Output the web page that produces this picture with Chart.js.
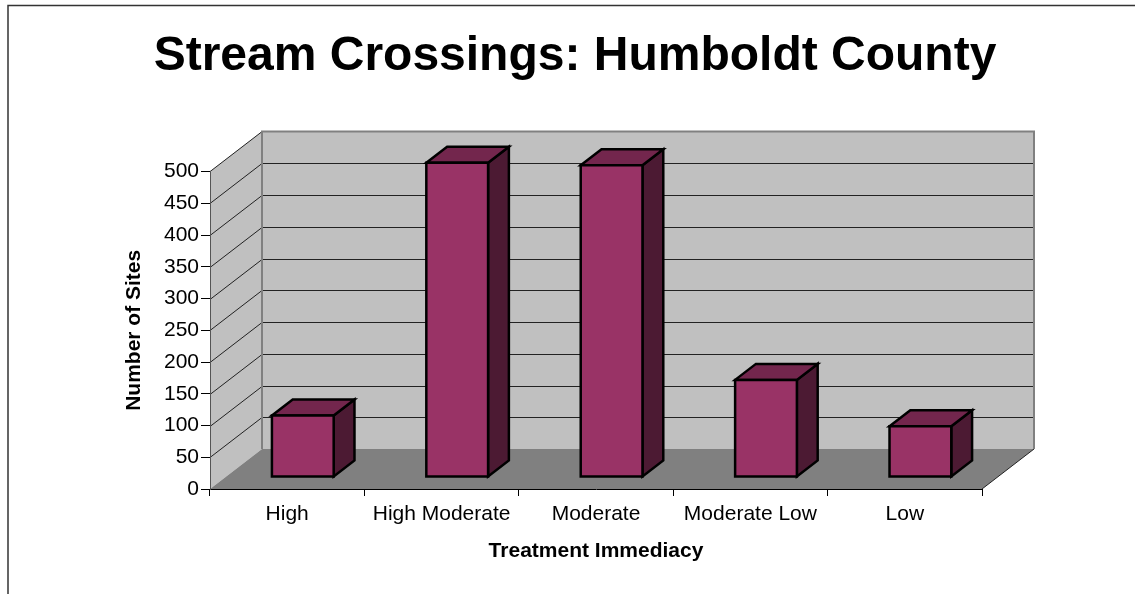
<!DOCTYPE html>
<html>
<head>
<meta charset="utf-8">
<script src="https://cdn.jsdelivr.net/npm/chart.js@4/dist/chart.umd.min.js"></script>
<style>
  html, body { margin: 0; padding: 0; background: #ffffff; }
  #wrap { width: 1135px; height: 594px; position: relative; }
</style>
</head>
<body>
<div id="wrap"><canvas id="c" width="1135" height="594"></canvas></div>
<script>
// ---- Data ----
const categories = ['High', 'High Moderate', 'Moderate', 'Moderate Low', 'Low'];
const siteCounts = [97, 495, 491, 153, 80];
const yTickStep = 50;
const yMax = 500;
const chartTitle = 'Stream Crossings: Humboldt County';
const xTitle = 'Treatment Immediacy';
const yTitle = 'Number of Sites';

// ---- Style ----
const FONT = '"Liberation Sans", Arial, Helvetica, sans-serif';
const DEPTH_X = 52, DEPTH_Y = -40;      // 3D depth offset
const BAR_FRONT = 0.3, BAR_DEPTH = 0.4; // bar position within depth
const COL_FRONT = '#993366', COL_TOP = '#73264d', COL_SIDE = '#4c1a33';

const wallsPlugin = {
  id: 'walls3d',
  beforeDraw(chart) {
    const ctx = chart.ctx;
    const xs = chart.scales.x, ys = chart.scales.y;
    const L = xs.left, R = xs.right;
    const y0 = ys.getPixelForValue(0), yT = ys.getPixelForValue(yMax);
    ctx.save();
    // outer frame
    ctx.strokeStyle = '#333333';
    ctx.lineWidth = 1.5;
    ctx.beginPath();
    ctx.moveTo(8, 1200); ctx.lineTo(8, 5.5); ctx.lineTo(2000, 5.5);
    ctx.stroke();
    // back wall
    ctx.fillStyle = '#c0c0c0';
    ctx.fillRect(L + DEPTH_X, yT + DEPTH_Y, R - L, y0 - yT);
    // side wall
    ctx.beginPath();
    ctx.moveTo(L, y0); ctx.lineTo(L, yT);
    ctx.lineTo(L + DEPTH_X, yT + DEPTH_Y); ctx.lineTo(L + DEPTH_X, y0 + DEPTH_Y);
    ctx.closePath();
    ctx.fill();
    // floor
    ctx.fillStyle = '#808080';
    ctx.beginPath();
    ctx.moveTo(L, y0); ctx.lineTo(R, y0);
    ctx.lineTo(R + DEPTH_X, y0 + DEPTH_Y); ctx.lineTo(L + DEPTH_X, y0 + DEPTH_Y);
    ctx.closePath();
    ctx.fill();
    // gridlines
    ctx.strokeStyle = '#222222';
    ctx.lineWidth = 1;
    for (let v = yTickStep; v < yMax; v += yTickStep) {
      const py = Math.round(ys.getPixelForValue(v)) + 0.5;
      ctx.beginPath();
      ctx.moveTo(L, py);
      ctx.lineTo(L + DEPTH_X, py + DEPTH_Y);
      ctx.lineTo(R + DEPTH_X, py + DEPTH_Y);
      ctx.stroke();
    }
    ctx.beginPath();
    ctx.moveTo(L, yT); ctx.lineTo(L + DEPTH_X, yT + DEPTH_Y);
    ctx.stroke();
    // floor right edge
    ctx.beginPath();
    ctx.moveTo(R, y0); ctx.lineTo(R + DEPTH_X, y0 + DEPTH_Y);
    ctx.stroke();
    // wall borders
    ctx.strokeStyle = '#808080';
    ctx.lineWidth = 2;
    ctx.beginPath();
    ctx.moveTo(L + DEPTH_X, y0 + DEPTH_Y);
    ctx.lineTo(L + DEPTH_X, yT + DEPTH_Y);
    ctx.lineTo(R + DEPTH_X, yT + DEPTH_Y);
    ctx.lineTo(R + DEPTH_X, y0 + DEPTH_Y);
    ctx.stroke();
    ctx.restore();
  },
  afterDatasetsDraw(chart) {
    const ctx = chart.ctx;
    const meta = chart.getDatasetMeta(0);
    const fx = DEPTH_X * BAR_FRONT, fy = DEPTH_Y * BAR_FRONT;
    const dx = DEPTH_X * BAR_DEPTH, dy = DEPTH_Y * BAR_DEPTH;
    ctx.save();
    ctx.lineWidth = 2.5;
    ctx.lineJoin = 'miter';
    ctx.strokeStyle = '#000000';
    meta.data.forEach(bar => {
      const p = bar.getProps(['x', 'y', 'base', 'width'], true);
      const l = p.x - p.width / 2 + fx, r = p.x + p.width / 2 + fx;
      const t = p.y + fy, b = p.base + fy;
      // side
      ctx.fillStyle = COL_SIDE;
      ctx.beginPath();
      ctx.moveTo(r, b); ctx.lineTo(r, t); ctx.lineTo(r + dx, t + dy); ctx.lineTo(r + dx, b + dy);
      ctx.closePath(); ctx.fill(); ctx.stroke();
      // top
      ctx.fillStyle = COL_TOP;
      ctx.beginPath();
      ctx.moveTo(l, t); ctx.lineTo(r, t); ctx.lineTo(r + dx, t + dy); ctx.lineTo(l + dx, t + dy);
      ctx.closePath(); ctx.fill(); ctx.stroke();
      // front
      ctx.fillStyle = COL_FRONT;
      ctx.beginPath();
      ctx.rect(l, t, r - l, b - t);
      ctx.fill(); ctx.stroke();
    });
    ctx.restore();
  }
};

new Chart(document.getElementById('c'), {
  type: 'bar',
  data: {
    labels: categories,
    datasets: [{
      label: yTitle,
      data: siteCounts,
      backgroundColor: 'rgba(0,0,0,0)',
      borderWidth: 0,
      barPercentage: 0.4,
      categoryPercentage: 1.0
    }]
  },
  options: {
    responsive: false,
    animation: false,
    events: [],
    layout: { padding: { left: 15, right: 0, top: 0, bottom: 0 } },
    plugins: {
      legend: { display: false },
      tooltip: { enabled: false },
      title: {
        display: true,
        text: chartTitle,
        color: '#000000',
        font: { family: FONT, size: 48, weight: 'bold', lineHeight: 1.2 },
        padding: { top: 28, bottom: 86 }
      }
    },
    scales: {
      x: {
        offset: true,
        grid: { display: true, offset: true, drawOnChartArea: false, drawTicks: true, tickLength: 7, color: '#000000', lineWidth: 1 },
        border: { display: true, color: '#000000', width: 1 },
        ticks: { color: '#000000', font: { family: FONT, size: 21 }, padding: 6, maxRotation: 0, autoSkip: false },
        title: { display: true, text: xTitle, color: '#000000', font: { family: FONT, size: 21, weight: 'bold', lineHeight: 1.2 }, padding: { top: 0, bottom: 30 } },
        afterFit(scale) { scale.height = 105; }
      },
      y: {
        min: 0, max: yMax,
        grid: { display: true, drawOnChartArea: false, drawTicks: true, tickLength: 9, color: '#000000', lineWidth: 1 },
        border: { display: true, color: '#555555', width: 1 },
        ticks: { stepSize: yTickStep, color: '#000000', font: { family: FONT, size: 21 }, padding: 2 },
        title: { display: true, text: yTitle, color: '#000000', font: { family: FONT, size: 21, weight: 'bold', lineHeight: 1.2 }, padding: { top: 107, bottom: 0 } },
        afterFit(scale) { scale.width = 195; }
      },
      depthSpace: {
        type: 'linear',
        position: 'right',
        display: true,
        grid: { display: false },
        border: { display: false },
        ticks: { display: false },
        afterFit(scale) { scale.width = 153; }
      }
    }
  },
  plugins: [wallsPlugin]
});
</script>
</body>
</html>
